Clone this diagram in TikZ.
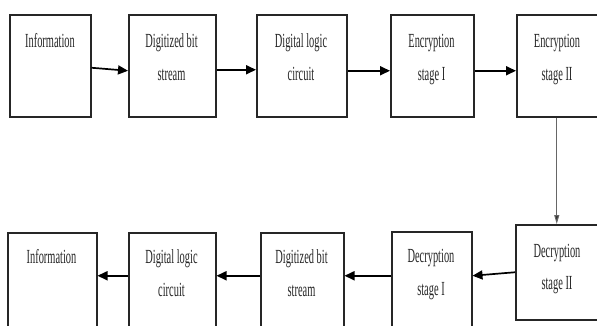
\documentclass[tikz,border=0pt]{standalone}
\usepackage{fontspec}
\setmainfont{Liberation Serif}
\newfontfamily\condfont[FakeStretch=0.52]{Liberation Serif}
\usetikzlibrary{arrows.meta}
\begin{document}
\begin{tikzpicture}[x=1pt,y=-1pt,
  block/.style={draw=black!85,line width=1.5pt,inner sep=0pt,anchor=north west},
  lbl/.style={anchor=base,inner sep=0pt,font=\condfont\fontsize{20}{20}\selectfont,text=black!85},
  flow/.style={draw=black,line width=1.7pt,-{Triangle[length=10pt,width=9pt]}},
  drop/.style={draw=black!60,line width=1pt,-{Triangle[length=9pt,width=5pt,fill=black!80]}}]
\useasboundingbox (0,0) rectangle (597,325);
\begin{scope}
\clip (0,0) rectangle (597,325);
% encryption chain
\node[block,minimum width=81pt,minimum height=102pt] (t1) at (9,14) {};
\node[block,minimum width=87pt,minimum height=102pt] (t2) at (128,14) {};
\node[block,minimum width=90pt,minimum height=102pt] (t3) at (256,14) {};
\node[block,minimum width=83pt,minimum height=102pt] (t4) at (390,14) {};
\node[block,minimum width=82pt,minimum height=102pt] (t5) at (516,14) {};
% decryption chain
\node[block,minimum width=84pt,minimum height=95pt] (b6) at (515,224) {};
\node[block,minimum width=80pt,minimum height=100pt] (b7) at (391,231) {};
\node[block,minimum width=83pt,minimum height=100pt] (b8) at (260,232) {};
\node[block,minimum width=87pt,minimum height=100pt] (b9) at (128,232) {};
\node[block,minimum width=89pt,minimum height=100pt] (b10) at (7,232) {};
\end{scope}
% labels
\node[lbl] (l1) at (50,47) {Information};
\node[lbl] (l2a) at (171.5,47) {Digitized bit};
\node[lbl] (l2b) at (171.5,80) {stream};
\node[lbl] (l3a) at (301,47) {Digital logic};
\node[lbl] (l3b) at (301,80) {circuit};
\node[lbl] (l4a) at (431.5,47) {Encryption};
\node[lbl] (l4b) at (431.5,80) {stage I};
\node[lbl] (l5a) at (557,47) {Encryption};
\node[lbl] (l5b) at (557,80) {stage II};
\node[lbl] (l6a) at (557,257) {Decryption};
\node[lbl] (l6b) at (557,289) {stage II};
\node[lbl] (l7a) at (431,262) {Decryption};
\node[lbl] (l7b) at (431,295) {stage I};
\node[lbl] (l8a) at (301.5,263) {Digitized bit};
\node[lbl] (l8b) at (301.5,296) {stream};
\node[lbl] (l9a) at (171.5,263) {Digital logic};
\node[lbl] (l9b) at (171.5,296) {circuit};
\node[lbl] (l10) at (51.5,263) {Information};
% connectors
\draw[flow] ([yshift=-2pt]t1.east) -- ([yshift=-5pt]t2.west);
\draw[flow] ([yshift=-4pt]t2.east) -- ([yshift=-4pt]t3.west);
\draw[flow] ([yshift=-5pt]t3.east) -- ([yshift=-5pt]t4.west);
\draw[flow] ([yshift=-5pt]t4.east) -- ([yshift=-5pt]t5.west);
\draw[drop] ([xshift=-1pt]t5.south) -- ([xshift=-1pt]b6.north);
\draw[flow] (b6.west) -- ([yshift=6pt]b7.east);
\draw[flow] ([yshift=6pt]b7.west) -- ([yshift=7pt]b8.east);
\draw[flow] ([yshift=7pt]b8.west) -- ([yshift=7pt]b9.east);
\draw[flow] ([yshift=7pt]b9.west) -- ([yshift=7pt]b10.east);
\end{tikzpicture}
\end{document}
